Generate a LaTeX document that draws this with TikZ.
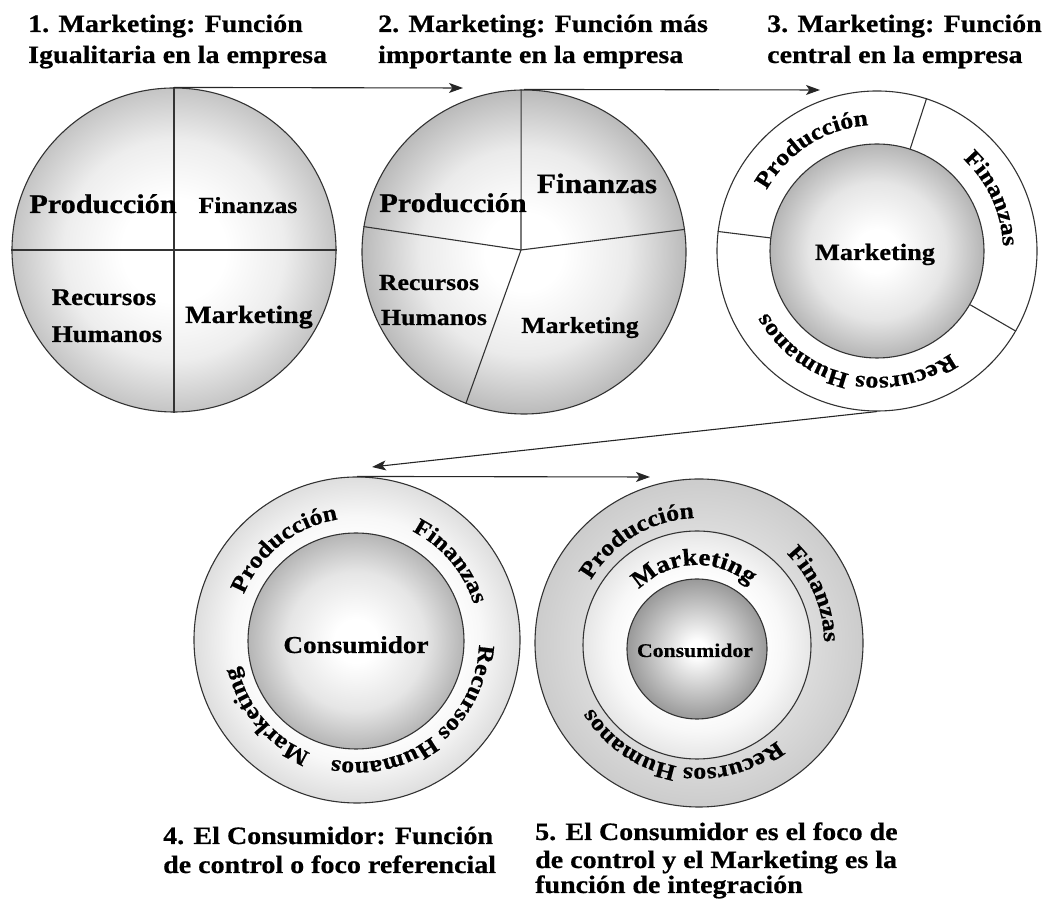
\documentclass[tikz,border=0pt]{standalone}
\usepackage{fontspec}
\setmainfont{Liberation Serif}[FakeStretch=1.12, BoldFeatures={FakeBold=0.6}]
\usetikzlibrary{arrows.meta,decorations.text}
\newcommand\myarcfont{\fontsize{23}{23}\selectfont\bfseries}
\newcommand\myarcfontb{\fontsize{24}{24}\selectfont\bfseries}
\definecolor{bAe}{gray}{0.77}\definecolor{bAm}{gray}{0.93}
\definecolor{bBe}{gray}{0.73}\definecolor{bBm}{gray}{0.92}
\definecolor{bCe}{gray}{0.71}\definecolor{bCm}{gray}{0.90}
\definecolor{rDe}{gray}{0.87}\definecolor{rDm}{gray}{0.97}
\definecolor{rEe}{gray}{0.80}\definecolor{rEm}{gray}{0.87}
\definecolor{mEe}{gray}{0.90}\definecolor{mEm}{gray}{0.97}
\definecolor{bFe}{gray}{0.60}\definecolor{bFm}{gray}{0.80}
\pgfdeclareradialshading{shA}{\pgfpoint{0bp}{0bp}}{color(0bp)=(white); color(8bp)=(white); color(17bp)=(bAm); color(25bp)=(bAe); color(50bp)=(bAe)}
\pgfdeclareradialshading{shB}{\pgfpoint{0bp}{0bp}}{color(0bp)=(white); color(6bp)=(white); color(16bp)=(bBm); color(25bp)=(bBe); color(50bp)=(bBe)}
\pgfdeclareradialshading{shC}{\pgfpoint{0bp}{0bp}}{color(0bp)=(white); color(5bp)=(white); color(16bp)=(bCm); color(25bp)=(bCe); color(50bp)=(bCe)}
\pgfdeclareradialshading{shD}{\pgfpoint{0bp}{0bp}}{color(0bp)=(white); color(15bp)=(white); color(19bp)=(rDm); color(25bp)=(rDe); color(50bp)=(rDe)}
\pgfdeclareradialshading{shE}{\pgfpoint{0bp}{0bp}}{color(0bp)=(white); color(16bp)=(rEm); color(25bp)=(rEe); color(50bp)=(rEe)}
\pgfdeclareradialshading{shM}{\pgfpoint{0bp}{0bp}}{color(0bp)=(white); color(14bp)=(white); color(19bp)=(mEm); color(25bp)=(mEe); color(50bp)=(mEe)}
\pgfdeclareradialshading{shF}{\pgfpoint{0bp}{0bp}}{color(0bp)=(white); color(3bp)=(white); color(14bp)=(bFm); color(25bp)=(bFe); color(50bp)=(bFe)}
\begin{document}
\begin{tikzpicture}[x=1pt,y=1pt,
  ttl/.style={anchor=base west, inner sep=0pt, font=\fontsize{25}{30}\selectfont\bfseries},
  lbl/.style={anchor=base, inner sep=0pt, font=\fontsize{#1}{#1}\selectfont\bfseries},
  ring/.style={circle, draw=black!80, line width=1.1pt, inner sep=0pt, minimum size=#1},
  ln/.style={draw=black!80, line width=1.1pt},
  arr/.style={draw=black!85, line width=1.1pt, -{Stealth[length=14pt,width=10pt,inset=3.5pt]}},
  arct/.style={decorate, decoration={text along path, text align=center, text={#1}}}
]
\useasboundingbox (0,0) rectangle (1044,907);

% ---------- titles ----------
\node[ttl] (t1a) at (28,875) {1. Marketing: Función};
\node[ttl] (t1b) at (28,844) {Igualitaria en la empresa};
\node[ttl] (t2a) at (378,875) {2. Marketing: Función más};
\node[ttl] (t2b) at (378,844) {importante en la empresa};
\node[ttl] (t3a) at (767,875) {3. Marketing: Función};
\node[ttl] (t3b) at (767,844) {central en la empresa};

% ---------- circle 1 ----------
\node[ring=324pt, shading=shA] (c1) at (174,657) {};
\draw[ln] (c1.north) -- (c1.south);
\draw[ln] (c1.west) -- (c1.east);
\node[lbl=27] (p1) at (103,694) {Producción};
\node[lbl=23] (f1) at (248,694) {Finanzas};
\node[lbl=24] (r1) at (104,602) {Recursos};
\node[lbl=24] (h1) at (107,565) {Humanos};
\node[lbl=25] (m1) at (249,584) {Marketing};

% ---------- circle 2 ----------
\node[ring=324pt, shading=shB] (c2) at (524,655) {};
\coordinate (m2) at (521,657);
\draw[ln] (c2.91.8) -- (m2);
\draw[ln] (c2.171.5) -- (m2);
\draw[ln] (c2.8.4) -- (m2);
\draw[ln] (c2.249.5) -- (m2);
\node[lbl=27] (p2) at (453,695) {Producción};
\node[lbl=28] (f2) at (597,714) {Finanzas};
\node[lbl=23] (r2) at (429,617) {Recursos};
\node[lbl=23] (h2) at (434,582) {Humanos};
\node[lbl=23] (mk2) at (580,574) {Marketing};

% ---------- circle 3 ----------
\node[ring=320pt, fill=white] (c3o) at (877,656) {};
\node[ring=214pt, shading=shC] (c3i) at (877,656) {};
\draw[ln] (c3i.72) -- (c3o.72);
\draw[ln] (c3i.173) -- (c3o.173);
\draw[ln] (c3i.-30) -- (c3o.-30);
\node[lbl=23.5] (mk3) at (875,647) {Marketing};
\path[arct={|\myarcfont|Producción}] (c3o.center) ++(172:126pt) arc[start angle=172, end angle=73, radius=126pt];
\path[arct={|\myarcfont|Finanzas}] (c3o.center) ++(70:126pt) arc[start angle=70, end angle=-21, radius=126pt];
\path[arct={|\myarcfont|Recursos Humanos}] (c3o.center) ++(-40:126pt) arc[start angle=-40, end angle=-165, radius=126pt];

% ---------- circle 4 ----------
\node[ring=326pt, shading=shD] (c4o) at (357,267) {};
\node[ring=216pt, shading=shC] (c4i) at (356,266) {};
\node[lbl=24.3] (cs4) at (356,254) {Consumidor};
\path[arct={|\myarcfont|Producción}] (c4o.center) ++(175:122pt) arc[start angle=175, end angle=82, radius=122pt];
\path[arct={|\myarcfont|Finanzas}] (c4o.center) ++(80:122pt) arc[start angle=80, end angle=0, radius=122pt];
\path[arct={|\myarcfont|Recursos Humanos}] (c4o.center) ++(2:122pt) arc[start angle=2, end angle=-106, radius=122pt];
\path[arct={|\myarcfont|Marketing}] (c4o.center) ++(-105:122pt) arc[start angle=-105, end angle=-175, radius=122pt];

% ---------- circle 5 ----------
\node[ring=328pt, shading=shE] (c5o) at (699,264) {};
\node[ring=228pt, shading=shM] (c5m) at (697,262) {};
\node[ring=140pt, shading=shF] (c5i) at (697,258) {};
\node[lbl=19.4] (cs5) at (695,250) {Consumidor};
\path[arct={|\myarcfont|Producción}] (c5o.center) ++(170:125pt) arc[start angle=170, end angle=72, radius=125pt];
\path[arct={|\myarcfont|Finanzas}] (c5o.center) ++(68:125pt) arc[start angle=68, end angle=-22, radius=125pt];
\path[arct={|\myarcfont|Recursos Humanos}] (c5o.center) ++(-38:125pt) arc[start angle=-38, end angle=-162, radius=125pt];
\path[arct={|\myarcfontb|Marketing}] (c5m.center) ++(160:80pt) arc[start angle=160, end angle=25, radius=80pt];

% ---------- arrows ----------
\coordinate (a1e) at (463,819);
\coordinate (a2e) at (820,817);
\coordinate (a3e) at (372,440);
\coordinate (a4e) at (650,430);
\draw[arr] (c1.north) -- (a1e);
\draw[arr] (c2.north) -- (a2e);
\draw[arr] (c3o.south) -- (a3e);
\draw[arr] (c4o.north) -- (a4e);

% ---------- captions ----------
\node[ttl] (k4a) at (163,63) {4. El Consumidor: Función};
\node[ttl] (k4b) at (163,34) {de control o foco referencial};
\node[ttl] (k5a) at (535,67) {5. El Consumidor es el foco de};
\node[ttl] (k5b) at (535,39) {de control y el Marketing es la};
\node[ttl] (k5c) at (535,14) {función de integración};
\end{tikzpicture}
\end{document}
